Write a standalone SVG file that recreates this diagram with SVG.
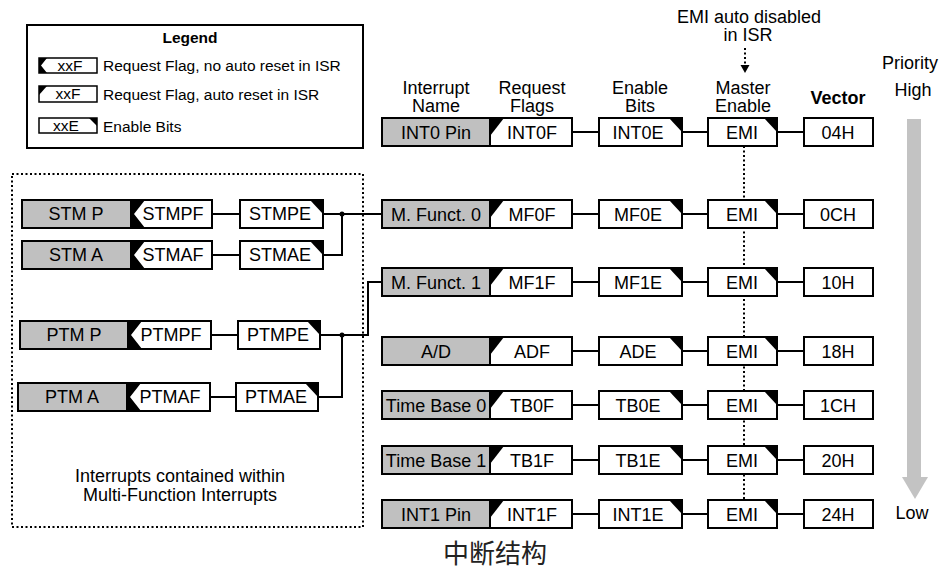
<svg xmlns="http://www.w3.org/2000/svg" width="946" height="569" viewBox="0 0 946 569">
<style>
.nm{fill:#c0c0c0;stroke:#000;stroke-width:2}
.bx{fill:#fff;stroke:#000;stroke-width:2}
.lb{fill:#fff;stroke:#000;stroke-width:1.5}
.blk{fill:#000}
.t{font-family:"Liberation Sans",Arial,sans-serif;font-size:18px;text-anchor:middle;fill:#000}
.s{font-family:"Liberation Sans",Arial,sans-serif;font-size:15.5px;fill:#000}
.ln{stroke:#000;stroke-width:2;fill:none}
.dot{stroke:#000;stroke-width:2;fill:none;stroke-dasharray:2 2.5}
.pri{fill:#c3c3c3}
</style>
<rect width="946" height="569" fill="#fff"/>

<!-- Legend -->
<g id="legend">
<rect x="27" y="25" width="336" height="123" fill="#fff" stroke="#000" stroke-width="2"/>
<text class="s" x="190" y="43" text-anchor="middle" font-weight="bold">Legend</text>
<rect class="lb" x="39" y="58" width="58" height="15"/>
<polygon class="blk" points="39,58 47,58 41,65.5 47,73 39,73"/>
<text class="s" x="70" y="71" text-anchor="middle">xxF</text>
<text class="s" x="103" y="71">Request Flag, no auto reset in ISR</text>
<rect class="lb" x="39" y="86" width="58" height="16"/>
<polygon class="blk" points="39,86 47,86 39,95"/>
<text class="s" x="68" y="99" text-anchor="middle">xxF</text>
<text class="s" x="103" y="100">Request Flag, auto reset in ISR</text>
<rect class="lb" x="39" y="118" width="58" height="15"/>
<polygon class="blk" points="89,118 97,118 97,126"/>
<text class="s" x="66" y="131" text-anchor="middle">xxE</text>
<text class="s" x="103" y="132">Enable Bits</text>
</g>

<!-- Headers -->
<g id="headers">
<text class="t" x="749" y="23">EMI auto disabled</text>
<text class="t" x="748" y="41">in ISR</text>
<text class="t" x="436" y="94">Interrupt</text>
<text class="t" x="436" y="112">Name</text>
<text class="t" x="532" y="94">Request</text>
<text class="t" x="532" y="112">Flags</text>
<text class="t" x="640" y="94">Enable</text>
<text class="t" x="640" y="112">Bits</text>
<text class="t" x="743" y="94">Master</text>
<text class="t" x="743" y="112">Enable</text>
<text class="t" x="838" y="104" font-weight="bold">Vector</text>
<text class="t" x="910" y="69">Priority</text>
<text class="t" x="913" y="96">High</text>
<text class="t" x="912" y="519">Low</text>
</g>

<!-- Priority arrow -->
<g id="priority">
<rect class="pri" x="907" y="119" width="14" height="359"/>
<polygon class="pri" points="902,477 928,477 915,499"/>
</g>

<!-- Connectors -->
<g id="connectors">
<line class="dot" x1="745" y1="48" x2="745" y2="66"/>
<polygon class="blk" points="740.5,65 749.5,65 745,73"/>
<line class="dot" x1="744" y1="146" x2="744" y2="500"/>
<path class="ln" d="M572 132H599M682 132H708M777 132H804"/>
<path class="ln" d="M572 214H599M682 214H708M777 214H804"/>
<path class="ln" d="M572 282H599M682 282H708M777 282H804"/>
<path class="ln" d="M572 351H599M682 351H708M777 351H804"/>
<path class="ln" d="M572 405H599M682 405H708M777 405H804"/>
<path class="ln" d="M572 460H599M682 460H708M777 460H804"/>
<path class="ln" d="M572 514H599M682 514H708M777 514H804"/>
<path class="ln" d="M212 214H240M323 214H382M212 255H240M323 255H342V214"/>
<path class="ln" d="M211 335H238M320 335H368V282H382M210 397H236M318 397H342V335"/>
<circle cx="342" cy="214" r="2.5" fill="#000"/>
<circle cx="342" cy="335" r="2.5" fill="#000"/>
</g>

<!-- Multi-function container -->
<g id="mf-container">
<rect class="dot" x="12" y="174" width="351" height="353"/>
<text class="t" x="180" y="482">Interrupts contained within</text>
<text class="t" x="180" y="501">Multi-Function Interrupts</text>
</g>

<!-- Sub interrupts -->
<g id="stmp">
<rect class="nm" x="22" y="200" width="109" height="28"/>
<text class="t" x="76" y="220">STM P</text>
<rect class="bx" x="131" y="200" width="81" height="28"/>
<polygon class="blk" points="131,200 145,200 134,214 145,228 131,228"/>
<text class="t" x="173" y="220">STMPF</text>
<rect class="bx" x="240" y="200" width="83" height="28"/>
<polygon class="blk" points="310,200 323,200 323,214"/>
<text class="t" x="280" y="220">STMPE</text>
</g>
<g id="stma">
<rect class="nm" x="22" y="241" width="109" height="28"/>
<text class="t" x="76" y="261">STM A</text>
<rect class="bx" x="131" y="241" width="81" height="28"/>
<polygon class="blk" points="131,241 145,241 134,255 145,269 131,269"/>
<text class="t" x="173" y="261">STMAF</text>
<rect class="bx" x="240" y="241" width="83" height="28"/>
<polygon class="blk" points="310,241 323,241 323,255"/>
<text class="t" x="280" y="261">STMAE</text>
</g>
<g id="ptmp">
<rect class="nm" x="20" y="321" width="108" height="28"/>
<text class="t" x="74" y="341">PTM P</text>
<rect class="bx" x="128" y="321" width="83" height="28"/>
<polygon class="blk" points="128,321 142,321 131,335 142,349 128,349"/>
<text class="t" x="171" y="341">PTMPF</text>
<rect class="bx" x="238" y="321" width="82" height="28"/>
<polygon class="blk" points="307,321 320,321 320,335"/>
<text class="t" x="278" y="341">PTMPE</text>
</g>
<g id="ptma">
<rect class="nm" x="18" y="383" width="109" height="28"/>
<text class="t" x="72" y="403">PTM A</text>
<rect class="bx" x="127" y="383" width="83" height="28"/>
<polygon class="blk" points="127,383 141,383 130,397 141,411 127,411"/>
<text class="t" x="170" y="403">PTMAF</text>
<rect class="bx" x="236" y="383" width="82" height="28"/>
<polygon class="blk" points="305,383 318,383 318,397"/>
<text class="t" x="276" y="403">PTMAE</text>
</g>

<!-- Main rows -->
<g id="int0">
<rect class="nm" x="382" y="118" width="108" height="28"/><text class="t" x="436" y="138.5">INT0 Pin</text>
<rect class="bx" x="490" y="118" width="82" height="28"/><polygon class="blk" points="490,118 504,118 490,136"/><text class="t" x="532" y="138.5">INT0F</text>
<rect class="bx" x="599" y="118" width="83" height="28"/><polygon class="blk" points="669,118 682,118 682,132"/><text class="t" x="638" y="138.5">INT0E</text>
<rect class="bx" x="708" y="118" width="69" height="28"/><polygon class="blk" points="764,118 777,118 777,132"/><text class="t" x="742" y="138.5">EMI</text>
<rect class="bx" x="804" y="118" width="69" height="28"/><text class="t" x="838" y="138.5">04H</text>
</g>
<g id="mf0">
<rect class="nm" x="382" y="200" width="108" height="28"/><text class="t" x="436" y="220.5">M. Funct. 0</text>
<rect class="bx" x="490" y="200" width="82" height="28"/><polygon class="blk" points="490,200 504,200 490,218"/><text class="t" x="532" y="220.5">MF0F</text>
<rect class="bx" x="599" y="200" width="83" height="28"/><polygon class="blk" points="669,200 682,200 682,214"/><text class="t" x="638" y="220.5">MF0E</text>
<rect class="bx" x="708" y="200" width="69" height="28"/><polygon class="blk" points="764,200 777,200 777,214"/><text class="t" x="742" y="220.5">EMI</text>
<rect class="bx" x="804" y="200" width="69" height="28"/><text class="t" x="838" y="220.5">0CH</text>
</g>
<g id="mf1">
<rect class="nm" x="382" y="268" width="108" height="28"/><text class="t" x="436" y="288.5">M. Funct. 1</text>
<rect class="bx" x="490" y="268" width="82" height="28"/><polygon class="blk" points="490,268 504,268 490,286"/><text class="t" x="532" y="288.5">MF1F</text>
<rect class="bx" x="599" y="268" width="83" height="28"/><polygon class="blk" points="669,268 682,268 682,282"/><text class="t" x="638" y="288.5">MF1E</text>
<rect class="bx" x="708" y="268" width="69" height="28"/><polygon class="blk" points="764,268 777,268 777,282"/><text class="t" x="742" y="288.5">EMI</text>
<rect class="bx" x="804" y="268" width="69" height="28"/><text class="t" x="838" y="288.5">10H</text>
</g>
<g id="ad">
<rect class="nm" x="382" y="337" width="108" height="28"/><text class="t" x="436" y="357.5">A/D</text>
<rect class="bx" x="490" y="337" width="82" height="28"/><polygon class="blk" points="490,337 504,337 490,355"/><text class="t" x="532" y="357.5">ADF</text>
<rect class="bx" x="599" y="337" width="83" height="28"/><polygon class="blk" points="669,337 682,337 682,351"/><text class="t" x="638" y="357.5">ADE</text>
<rect class="bx" x="708" y="337" width="69" height="28"/><polygon class="blk" points="764,337 777,337 777,351"/><text class="t" x="742" y="357.5">EMI</text>
<rect class="bx" x="804" y="337" width="69" height="28"/><text class="t" x="838" y="357.5">18H</text>
</g>
<g id="tb0">
<rect class="nm" x="382" y="391" width="108" height="28"/><text class="t" x="436" y="411.5">Time Base 0</text>
<rect class="bx" x="490" y="391" width="82" height="28"/><polygon class="blk" points="490,391 504,391 490,409"/><text class="t" x="532" y="411.5">TB0F</text>
<rect class="bx" x="599" y="391" width="83" height="28"/><polygon class="blk" points="669,391 682,391 682,405"/><text class="t" x="638" y="411.5">TB0E</text>
<rect class="bx" x="708" y="391" width="69" height="28"/><polygon class="blk" points="764,391 777,391 777,405"/><text class="t" x="742" y="411.5">EMI</text>
<rect class="bx" x="804" y="391" width="69" height="28"/><text class="t" x="838" y="411.5">1CH</text>
</g>
<g id="tb1">
<rect class="nm" x="382" y="446" width="108" height="28"/><text class="t" x="436" y="466.5">Time Base 1</text>
<rect class="bx" x="490" y="446" width="82" height="28"/><polygon class="blk" points="490,446 504,446 490,464"/><text class="t" x="532" y="466.5">TB1F</text>
<rect class="bx" x="599" y="446" width="83" height="28"/><polygon class="blk" points="669,446 682,446 682,460"/><text class="t" x="638" y="466.5">TB1E</text>
<rect class="bx" x="708" y="446" width="69" height="28"/><polygon class="blk" points="764,446 777,446 777,460"/><text class="t" x="742" y="466.5">EMI</text>
<rect class="bx" x="804" y="446" width="69" height="28"/><text class="t" x="838" y="466.5">20H</text>
</g>
<g id="int1">
<rect class="nm" x="382" y="500" width="108" height="28"/><text class="t" x="436" y="520.5">INT1 Pin</text>
<rect class="bx" x="490" y="500" width="82" height="28"/><polygon class="blk" points="490,500 504,500 490,518"/><text class="t" x="532" y="520.5">INT1F</text>
<rect class="bx" x="599" y="500" width="83" height="28"/><polygon class="blk" points="669,500 682,500 682,514"/><text class="t" x="638" y="520.5">INT1E</text>
<rect class="bx" x="708" y="500" width="69" height="28"/><polygon class="blk" points="764,500 777,500 777,514"/><text class="t" x="742" y="520.5">EMI</text>
<rect class="bx" x="804" y="500" width="69" height="28"/><text class="t" x="838" y="520.5">24H</text>
</g>

<text x="495" y="563" text-anchor="middle" font-family="'Noto Sans CJK SC','Noto Sans',sans-serif" font-size="26" fill="#222">中断结构</text>
</svg>
